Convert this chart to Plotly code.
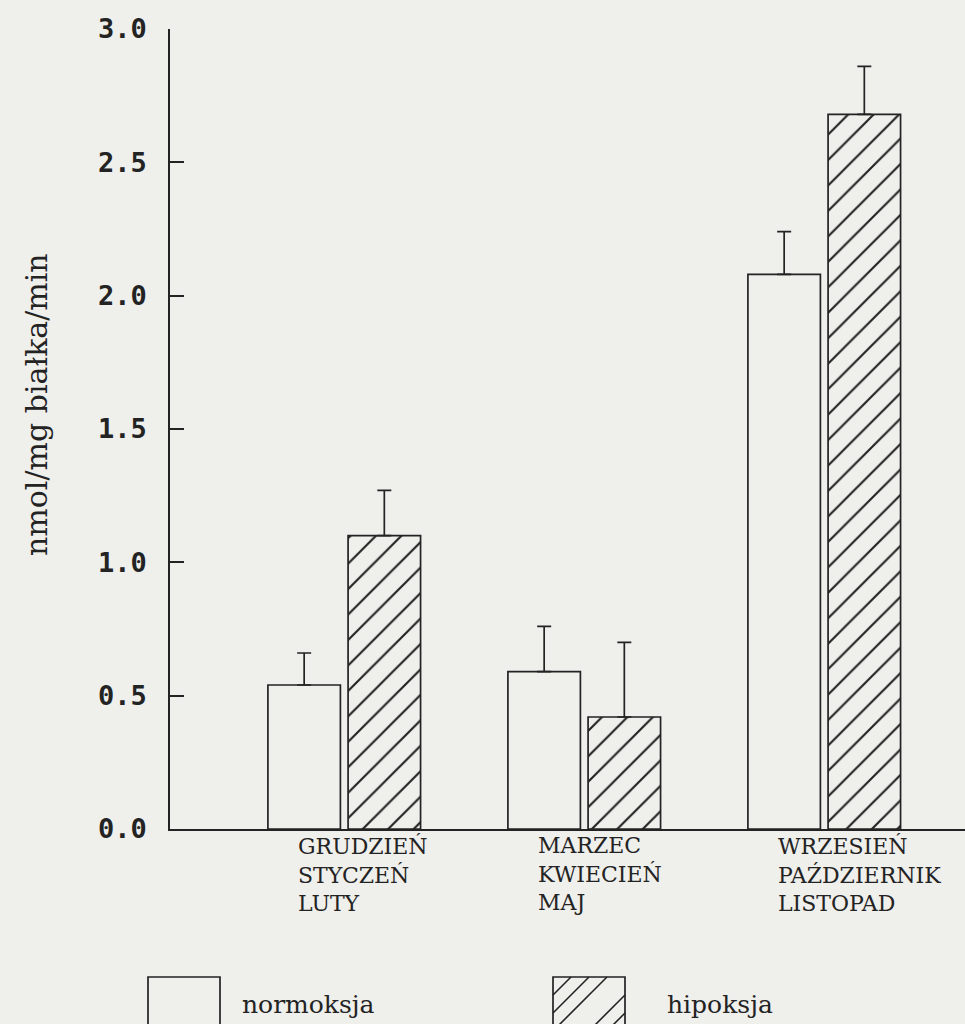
import plotly.graph_objects as go

# ---- data ----
categories = ["GRUDZIEŃ<br>STYCZEŃ<br>LUTY",
              "MARZEC<br>KWIECIEŃ<br>MAJ",
              "WRZESIEŃ<br>PAŹDZIERNIK<br>LISTOPAD"]
normoksja = [0.54, 0.59, 2.08]
normoksja_err = [0.12, 0.17, 0.16]
hipoksja = [1.10, 0.42, 2.68]
hipoksja_err = [0.17, 0.28, 0.18]
y_ticks = [0.0, 0.5, 1.0, 1.5, 2.0, 2.5, 3.0]
y_title = "nmol/mg białka/min"
legend_names = ["normoksja", "hipoksja"]

BG = "#efefec"
INK = "#232323"
W, H = 965, 1024
ML, MR, MT, MB = 170, 0, 29, 195
PW, PH = W - ML - MR, H - MT - MB

xpos = list(range(len(categories)))

fig = go.Figure()
fig.add_trace(go.Bar(
    x=xpos, y=normoksja, name=legend_names[0],
    offset=-0.317, width=0.302,
    marker=dict(color=BG, line=dict(color=INK, width=1.7)),
    error_y=dict(type="data", array=normoksja_err, arrayminus=[0]*len(normoksja),
                 symmetric=False, color=INK, thickness=1.7, width=7),
    showlegend=False,
))
fig.add_trace(go.Bar(
    x=xpos, y=hipoksja, name=legend_names[1],
    offset=0.017, width=0.302,
    marker=dict(color=BG, line=dict(color=INK, width=1.7),
                pattern=dict(shape="/", size=18, solidity=0.12,
                             fgcolor=INK, bgcolor=BG, fillmode="replace")),
    error_y=dict(type="data", array=hipoksja_err, arrayminus=[0]*len(hipoksja),
                 symmetric=False, color=INK, thickness=1.7, width=7),
    showlegend=False,
))

# category labels, left aligned multi-line
annotations = []
for i, c in enumerate(categories):
    annotations.append(dict(
        x=i - 0.2, xref="x", y=0, yref="y", yshift=-2,
        text=c, showarrow=False, xanchor="left", yanchor="top", align="left",
        font=dict(family="DejaVu Serif", size=22, color=INK),
    ))

def px2paper(px, py):
    return (px - ML) / PW, (H - MB - py) / PH

# y-axis title
tx, ty = px2paper(36, 405)
annotations.append(dict(
    x=tx, y=ty, xref="paper", yref="paper", text=y_title, textangle=-90,
    showarrow=False, xanchor="center", yanchor="middle",
    font=dict(family="DejaVu Serif", size=30, color=INK),
))

# legend (manual)
shapes = []
boxes = [(148, 220), (553, 625)]
box_top, box_bot = 977, 1040
label_x = [240, 665]
for k, (x0, x1) in enumerate(boxes):
    p0 = px2paper(x0, box_top)
    p1 = px2paper(x1, box_bot)
    shapes.append(dict(type="rect", xref="paper", yref="paper",
                       x0=p0[0], y0=p1[1], x1=p1[0], y1=p0[1],
                       line=dict(color=INK, width=1.7), fillcolor=BG, layer="above"))
    if k == 1:
        # hatch lines x + y = c clipped to the box
        c = x0 + box_top + 18
        while c < x1 + box_bot:
            pts = []
            for xx in (x0, x1):
                yy = c - xx
                if box_top <= yy <= box_bot:
                    pts.append((xx, yy))
            for yy in (box_top, box_bot):
                xx = c - yy
                if x0 <= xx <= x1:
                    pts.append((xx, yy))
            if len(pts) >= 2:
                a = px2paper(*pts[0]); b = px2paper(*pts[1])
                shapes.append(dict(type="line", xref="paper", yref="paper",
                                   x0=a[0], y0=a[1], x1=b[0], y1=b[1],
                                   line=dict(color=INK, width=1.6), layer="above"))
            c += 18
    lx, ly = px2paper(label_x[k], 1004)
    annotations.append(dict(
        x=lx, y=ly, xref="paper", yref="paper", text=legend_names[k],
        showarrow=False, xanchor="left", yanchor="middle",
        font=dict(family="DejaVu Serif", size=25, color=INK),
    ))

fig.update_layout(
    width=W, height=H,
    margin=dict(l=ML, r=MR, t=MT, b=MB),
    paper_bgcolor=BG, plot_bgcolor=BG,
    barmode="overlay",
    showlegend=False,
    annotations=annotations,
    shapes=shapes,
    xaxis=dict(range=[-0.725, 2.5875], showline=True, linecolor=INK, linewidth=1.7,
               showticklabels=False, ticks="", showgrid=False, zeroline=False),
    yaxis=dict(range=[0, 3.0], tickvals=y_ticks, tickformat=".1f",
               showline=True, linecolor=INK, linewidth=1.7,
               ticks="inside", ticklen=14, tickwidth=1.7, tickcolor=INK,
               ticklabelstandoff=16,
               tickfont=dict(family="DejaVu Sans Mono", size=27, color=INK, weight="bold"),
               showgrid=False, zeroline=False),
)

fig.write_html("out.html")
